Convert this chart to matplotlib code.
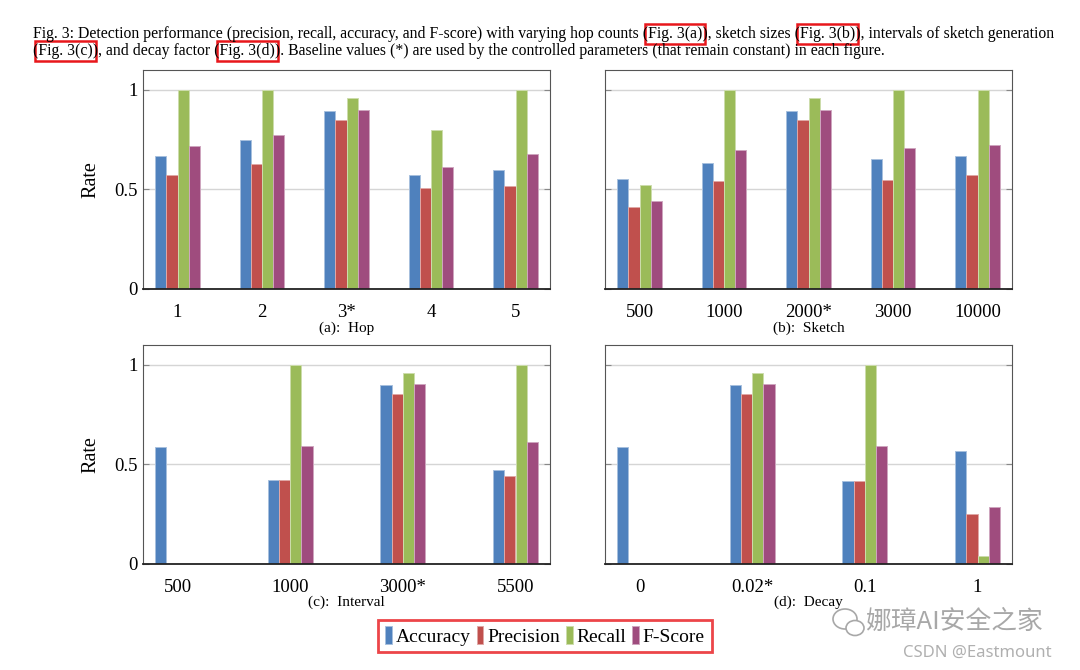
import numpy as np
import matplotlib
matplotlib.use('Agg')
import matplotlib.pyplot as plt
from matplotlib.patches import Rectangle, Ellipse
from matplotlib.colors import to_rgb

plt.rcParams['font.family'] = ['Liberation Serif', 'DejaVu Serif']

# series and colours
series = ['Accuracy', 'Precision', 'Recall', 'F-Score']
colors = ['#4F81BD', '#C0504D', '#9BBB59', '#9F4C7E']

# (a) hop
hop_labels = ['1', '2', '3*', '4', '5']
hop_acc = [0.67, 0.75, 0.895, 0.57, 0.60]
hop_prec = [0.57, 0.63, 0.85, 0.505, 0.515]
hop_rec = [1.0, 1.0, 0.96, 0.80, 1.0]
hop_f = [0.72, 0.775, 0.90, 0.615, 0.68]

# (b) sketch
sketch_labels = ['500', '1000', '2000*', '3000', '10000']
sketch_acc = [0.552, 0.634, 0.895, 0.652, 0.669]
sketch_prec = [0.413, 0.543, 0.85, 0.547, 0.572]
sketch_rec = [0.522, 1.0, 0.96, 1.0, 1.0]
sketch_f = [0.441, 0.70, 0.90, 0.707, 0.722]

# (c) interval
interval_labels = ['500', '1000', '3000*', '5500']
interval_acc = [0.585, 0.418, 0.895, 0.47]
interval_prec = [0.0, 0.418, 0.85, 0.441]
interval_rec = [0.0, 1.0, 0.96, 1.0]
interval_f = [0.0, 0.592, 0.90, 0.612]

# (d) decay
decay_labels = ['0', '0.02*', '0.1', '1']
decay_acc = [0.584, 0.895, 0.416, 0.567]
decay_prec = [0.0, 0.85, 0.416, 0.251]
decay_rec = [0.0, 0.96, 1.0, 0.04]
decay_f = [0.0, 0.90, 0.589, 0.286]

caption1 = ("Fig. 3: Detection performance (precision, recall, accuracy, and F-score) "
            "with varying hop counts (Fig. 3(a)), sketch sizes (Fig. 3(b)), intervals of sketch generation")
caption2 = ("(Fig. 3(c)), and decay factor (Fig. 3(d)). Baseline values (*) are used by the "
            "controlled parameters (that remain constant) in each figure.")

W, H = 1080, 670
fig = plt.figure(figsize=(W / 100, H / 100), dpi=100)


def lighter(c, f=0.5):
    r, g, b = to_rgb(c)
    return (r + (1 - r) * f, g + (1 - g) * f, b + (1 - b) * f)


def draw_panel(rect, labels, values, caption, show_y):
    ax = fig.add_axes(rect)
    n = len(labels)
    x = np.arange(n)
    ax_px = rect[2] * W
    spacing = (ax_px - 2 * 34.5) / (n - 1)
    bw = 11.2 / spacing
    for k, (vals, c, name) in enumerate(zip(values, colors, series)):
        ax.bar(x + (k - 1.5) * bw, vals, bw, color=c, edgecolor=lighter(c),
               linewidth=0.7, label=name, zorder=3)
    pad = 34.5 / spacing
    ax.set_xlim(-pad, n - 1 + pad)
    ax.set_ylim(0, 1.1)
    ax.set_yticks([0, 0.5, 1])
    ax.set_yticklabels(['0', '0.5', '1'] if show_y else [])
    ax.set_xticks(x)
    ax.set_xticklabels(labels)
    ax.tick_params(axis='x', length=0, pad=11, labelsize=13.5)
    ax.tick_params(axis='y', direction='in', length=4, color='#888888',
                   left=True, right=True, labelsize=13.5, pad=4)
    ax.grid(axis='y', color='#d5d5d5', linewidth=1.0, zorder=0)
    ax.set_axisbelow(True)
    for s in ['left', 'right', 'top']:
        ax.spines[s].set_color('#555555')
        ax.spines[s].set_linewidth(0.8)
    ax.spines['bottom'].set_color('#222222')
    ax.spines['bottom'].set_linewidth(1.3)
    ax.spines['bottom'].set_zorder(4)
    if show_y:
        ax.set_ylabel('Rate', fontsize=14.5)
        ax.yaxis.set_label_coords(-0.104, 0.5)
    ax.text(0.5, -0.178, caption, transform=ax.transAxes, ha='center',
            va='center', fontsize=11)
    return ax


top_b, bot_b, ah = 0.5687, 0.1587, 0.3269
lx, rx, aw = 143 / W, 605 / W, 407 / W

ax_a = draw_panel([lx, top_b, aw, ah], hop_labels,
                  [hop_acc, hop_prec, hop_rec, hop_f], '(a):  Hop', True)
draw_panel([rx, top_b, aw, ah], sketch_labels,
           [sketch_acc, sketch_prec, sketch_rec, sketch_f], '(b):  Sketch', False)
draw_panel([lx, bot_b, aw, ah], interval_labels,
           [interval_acc, interval_prec, interval_rec, interval_f], '(c):  Interval', True)
draw_panel([rx, bot_b, aw, ah], decay_labels,
           [decay_acc, decay_prec, decay_rec, decay_f], '(d):  Decay', False)

# caption with red boxes around the figure references
renderer = fig.canvas.get_renderer()


def text_width(s, fs):
    t = fig.text(0, 0, s, fontsize=fs)
    w = t.get_window_extent(renderer).width
    t.remove()
    return w


fs = 10 * 1024 / text_width(caption1, 10)
x0 = 33
for line, yc, boxed in [(caption1, 34, ['Fig. 3(a)', 'Fig. 3(b)']),
                        (caption2, 51, ['Fig. 3(c)', 'Fig. 3(d)'])]:
    fig.text(x0 / W, 1 - yc / H, line, fontsize=fs, va='center', ha='left')
    for sub in boxed:
        i = line.index(sub)
        xs = x0 + text_width(line[:i], fs)
        xe = x0 + text_width(line[:i + len(sub)], fs)
        fig.add_artist(Rectangle(((xs - 3) / W, 1 - (yc + 10) / H), (xe - xs + 6) / W,
                                 20 / H, transform=fig.transFigure, fill=False,
                                 edgecolor='#e8161b', linewidth=1.8))

# legend
handles, names = ax_a.get_legend_handles_labels()
leg = fig.legend(handles, names, loc='center', bbox_to_anchor=(545 / W, 1 - 636 / H),
                 ncol=4, fontsize=14, handlelength=0.35, handleheight=1.0,
                 handletextpad=0.2, columnspacing=0.3, borderpad=0.35,
                 fancybox=False, frameon=True)
leg.get_frame().set_edgecolor('#e8161b')
leg.get_frame().set_linewidth(2.0)

# watermark
fig.add_artist(Ellipse((845 / W, 1 - 619 / H), 24 / W, 20 / H, transform=fig.transFigure,
                       fill=False, edgecolor='#a8a8a8', linewidth=1.2))
fig.add_artist(Ellipse((855 / W, 1 - 628 / H), 18 / W, 15 / H, transform=fig.transFigure,
                       facecolor='white', edgecolor='#a8a8a8', linewidth=1.2))
fig.text(865 / W, 1 - 622 / H, '娜璋AI安全之家', family=['Noto Sans CJK SC', 'DejaVu Sans'],
         fontsize=18.5, color='#a8a8a8', va='center')
fig.text(903 / W, 1 - 653 / H, 'CSDN @Eastmount', family=['Noto Sans', 'DejaVu Sans'],
         fontsize=12, color='#b0b0b0', va='center')

fig.savefig('out.png', dpi=100)
